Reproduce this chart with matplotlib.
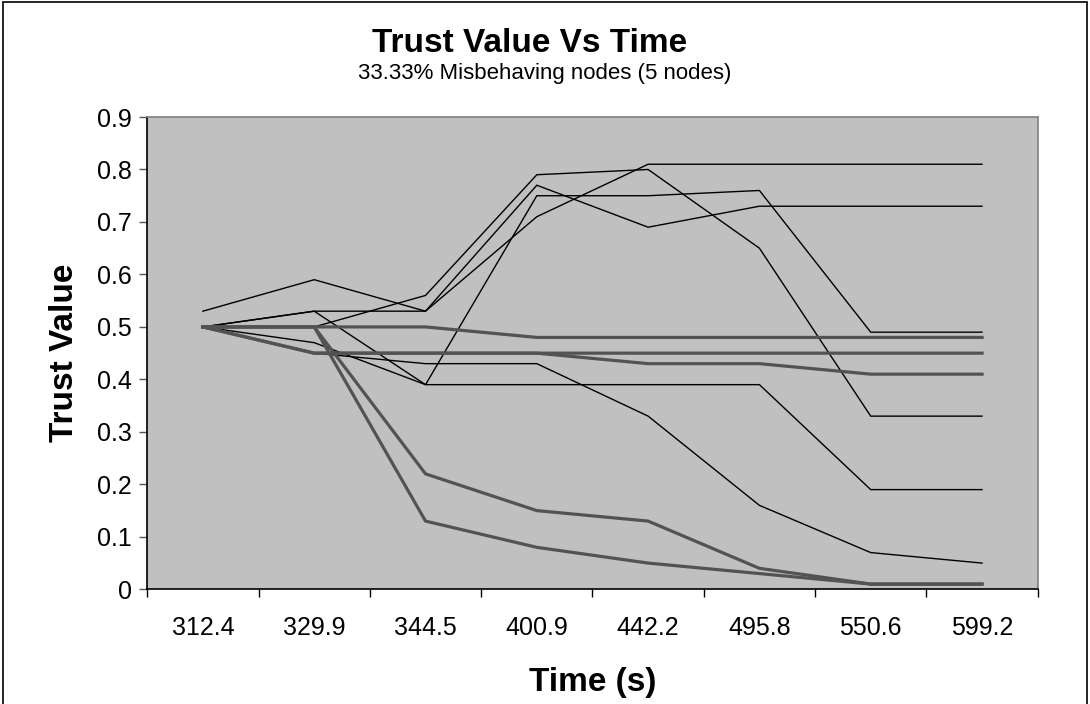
import matplotlib.pyplot as plt
from matplotlib.patches import Rectangle
import numpy as np

# categories (time in seconds) shown on the x axis
times = ['312.4', '329.9', '344.5', '400.9', '442.2', '495.8', '550.6', '599.2']

# well behaving nodes (thin black lines)
node_a = [0.53, 0.59, 0.53, 0.71, 0.81, 0.81, 0.81, 0.81]
node_b = [0.50, 0.53, 0.53, 0.77, 0.69, 0.73, 0.73, 0.73]
node_c = [0.50, 0.53, 0.39, 0.75, 0.75, 0.76, 0.49, 0.49]
node_d = [0.50, 0.50, 0.56, 0.79, 0.80, 0.65, 0.33, 0.33]
node_e = [0.50, 0.47, 0.39, 0.39, 0.39, 0.39, 0.19, 0.19]
node_f = [0.50, 0.45, 0.43, 0.43, 0.33, 0.16, 0.07, 0.05]

# misbehaving nodes (thick grey lines)
bad_1 = [0.50, 0.50, 0.50, 0.48, 0.48, 0.48, 0.48, 0.48]
bad_2 = [0.50, 0.45, 0.45, 0.45, 0.45, 0.45, 0.45, 0.45]
bad_3 = [0.50, 0.45, 0.45, 0.45, 0.43, 0.43, 0.41, 0.41]
bad_4 = [0.50, 0.50, 0.22, 0.15, 0.13, 0.04, 0.01, 0.01]
bad_5 = [0.50, 0.50, 0.13, 0.08, 0.05, 0.03, 0.01, 0.01]

good_nodes = [node_a, node_b, node_c, node_d, node_e, node_f]
bad_nodes = [bad_1, bad_2, bad_3, bad_4, bad_5]

plt.rcParams['font.family'] = ['Liberation Sans', 'DejaVu Sans']

fig = plt.figure(figsize=(10.9, 7.04), dpi=100, facecolor='white')
ax = fig.add_axes([0.1351, 0.1629, 0.8169, 0.6709])
ax.set_facecolor('#c0c0c0')

x = np.arange(len(times))
for vals in good_nodes:
    ax.plot(x, vals, color='black', lw=1.0, solid_joinstyle='miter')
for vals in bad_nodes:
    ax.plot(x, vals, color='#535353', lw=2.3)

ax.set_xlim(-0.5, len(times) - 0.5)
ax.set_ylim(0, 0.9)
ax.set_yticks(np.arange(0, 0.91, 0.1))
ax.set_yticklabels(['0'] + ['%.1f' % v for v in np.arange(0.1, 0.91, 0.1)])
ax.set_xticks(x)
ax.set_xticklabels(times)
ax.set_xticks(np.arange(-0.5, len(times)), minor=True)
ax.tick_params(axis='x', which='major', length=0, pad=19, labelsize=18)
ax.tick_params(axis='x', which='minor', length=6, width=1, color='black')
ax.tick_params(axis='y', length=6, width=1, color='#555555', pad=5, labelsize=18)

for side in ['top', 'right']:
    ax.spines[side].set_color('#808080')
    ax.spines[side].set_linewidth(1.2)
for side in ['left', 'bottom']:
    ax.spines[side].set_color('black')
    ax.spines[side].set_linewidth(1.2)

ax.set_xlabel('Time (s)', fontsize=24, fontweight='bold', labelpad=20)
ax.set_ylabel('Trust Value', fontsize=24, fontweight='bold', labelpad=12)

# titles sit over the chart area, as in the spreadsheet chart
fig.text(0.486, 1 - 44 / 704, 'Trust Value Vs Time', fontsize=24,
         fontweight='bold', ha='center', va='center')
fig.text(0.5, 1 - 74 / 704, '33.33% Misbehaving nodes (5 nodes)',
         fontsize=16, ha='center', va='center')

# chart border
fig.patches.append(Rectangle((0.003, -0.05), 0.994, 1.047, transform=fig.transFigure,
                             fill=False, edgecolor='black', lw=1.2))

fig.savefig('out.png', dpi=100)
